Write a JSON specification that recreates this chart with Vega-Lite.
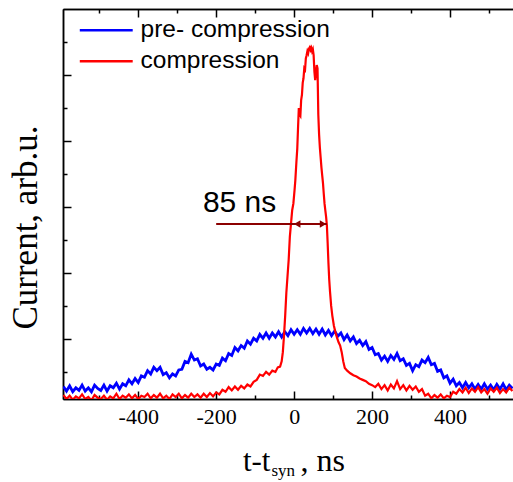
{
"$schema": "https://vega.github.io/schema/vega-lite/v6.json",
"width": 450,
"height": 390,
"autosize": "none",
"padding": {"left": 63, "top": 9, "right": 0, "bottom": 83},
"background": "white",
"config": {
  "view": {"stroke": null},
  "axis": {"domainColor": "black", "domainWidth": 1.5, "tickColor": "black", "tickWidth": 1.5, "grid": false, "labelColor": "black", "titleColor": "black", "titleFontWeight": "normal"}
},
"datasets": {
"pre": [
{"t":-592,"v":0.28},{"t":-584,"v":0.21},{"t":-576,"v":0.29},{"t":-568,"v":0.20},{"t":-560,"v":0.26},{"t":-552,"v":0.22},{"t":-544,"v":0.30},{"t":-536,"v":0.21},{"t":-528,"v":0.26},{"t":-520,"v":0.20},{"t":-512,"v":0.30},{"t":-504,"v":0.25},{"t":-496,"v":0.22},{"t":-488,"v":0.30},{"t":-480,"v":0.21},{"t":-472,"v":0.29},{"t":-464,"v":0.26},{"t":-456,"v":0.33},{"t":-448,"v":0.24},{"t":-440,"v":0.32},{"t":-432,"v":0.29},{"t":-424,"v":0.38},{"t":-416,"v":0.32},{"t":-408,"v":0.40},{"t":-400,"v":0.34},{"t":-392,"v":0.44},{"t":-384,"v":0.42},{"t":-376,"v":0.52},{"t":-368,"v":0.47},{"t":-360,"v":0.57},{"t":-352,"v":0.52},{"t":-344,"v":0.57},{"t":-336,"v":0.46},{"t":-328,"v":0.49},{"t":-320,"v":0.41},{"t":-312,"v":0.47},{"t":-304,"v":0.44},{"t":-296,"v":0.53},{"t":-288,"v":0.54},{"t":-280,"v":0.66},{"t":-272,"v":0.64},{"t":-264,"v":0.77},{"t":-256,"v":0.68},{"t":-248,"v":0.70},{"t":-240,"v":0.59},{"t":-232,"v":0.62},{"t":-224,"v":0.54},{"t":-216,"v":0.57},{"t":-208,"v":0.53},{"t":-200,"v":0.62},{"t":-192,"v":0.60},{"t":-184,"v":0.71},{"t":-176,"v":0.67},{"t":-168,"v":0.78},{"t":-160,"v":0.75},{"t":-152,"v":0.87},{"t":-144,"v":0.82},{"t":-136,"v":0.90},{"t":-128,"v":0.86},{"t":-120,"v":0.97},{"t":-112,"v":0.92},{"t":-104,"v":1.01},{"t":-96,"v":0.97},{"t":-88,"v":1.07},{"t":-80,"v":1.01},{"t":-72,"v":1.09},{"t":-64,"v":1.01},{"t":-56,"v":1.09},{"t":-48,"v":1.03},{"t":-40,"v":1.11},{"t":-32,"v":1.03},{"t":-24,"v":1.11},{"t":-16,"v":1.05},{"t":-8,"v":1.14},{"t":0,"v":1.07},{"t":8,"v":1.14},{"t":16,"v":1.07},{"t":24,"v":1.16},{"t":32,"v":1.09},{"t":40,"v":1.16},{"t":48,"v":1.08},{"t":56,"v":1.15},{"t":64,"v":1.07},{"t":72,"v":1.15},{"t":80,"v":1.06},{"t":88,"v":1.13},{"t":96,"v":1.05},{"t":104,"v":1.12},{"t":112,"v":1.04},{"t":120,"v":1.09},{"t":128,"v":0.99},{"t":136,"v":1.06},{"t":144,"v":0.97},{"t":152,"v":1.03},{"t":160,"v":0.93},{"t":168,"v":0.98},{"t":176,"v":0.90},{"t":184,"v":0.96},{"t":192,"v":0.84},{"t":200,"v":0.87},{"t":208,"v":0.76},{"t":216,"v":0.78},{"t":224,"v":0.68},{"t":232,"v":0.74},{"t":240,"v":0.66},{"t":248,"v":0.75},{"t":256,"v":0.69},{"t":264,"v":0.78},{"t":272,"v":0.67},{"t":280,"v":0.70},{"t":288,"v":0.60},{"t":296,"v":0.63},{"t":304,"v":0.52},{"t":312,"v":0.61},{"t":320,"v":0.58},{"t":328,"v":0.68},{"t":336,"v":0.64},{"t":344,"v":0.72},{"t":352,"v":0.61},{"t":360,"v":0.63},{"t":368,"v":0.51},{"t":376,"v":0.53},{"t":384,"v":0.41},{"t":392,"v":0.44},{"t":400,"v":0.33},{"t":408,"v":0.39},{"t":416,"v":0.29},{"t":424,"v":0.34},{"t":432,"v":0.26},{"t":440,"v":0.34},{"t":448,"v":0.26},{"t":456,"v":0.32},{"t":464,"v":0.24},{"t":472,"v":0.31},{"t":480,"v":0.24},{"t":488,"v":0.32},{"t":496,"v":0.24},{"t":504,"v":0.30},{"t":512,"v":0.23},{"t":520,"v":0.31},{"t":528,"v":0.24},{"t":536,"v":0.32},{"t":544,"v":0.23},{"t":552,"v":0.30},{"t":560,"v":0.25}
],
"comp": [
{"t":-592,"v":0.15},{"t":-584,"v":0.09},{"t":-576,"v":0.14},{"t":-568,"v":0.08},{"t":-560,"v":0.13},{"t":-552,"v":0.10},{"t":-544,"v":0.16},{"t":-536,"v":0.09},{"t":-528,"v":0.12},{"t":-520,"v":0.07},{"t":-512,"v":0.15},{"t":-504,"v":0.11},{"t":-496,"v":0.09},{"t":-488,"v":0.14},{"t":-480,"v":0.08},{"t":-472,"v":0.13},{"t":-464,"v":0.10},{"t":-456,"v":0.17},{"t":-448,"v":0.09},{"t":-440,"v":0.14},{"t":-432,"v":0.11},{"t":-424,"v":0.16},{"t":-416,"v":0.10},{"t":-408,"v":0.15},{"t":-400,"v":0.09},{"t":-392,"v":0.14},{"t":-384,"v":0.12},{"t":-376,"v":0.17},{"t":-368,"v":0.10},{"t":-360,"v":0.15},{"t":-352,"v":0.11},{"t":-344,"v":0.17},{"t":-336,"v":0.10},{"t":-328,"v":0.14},{"t":-320,"v":0.09},{"t":-312,"v":0.16},{"t":-304,"v":0.12},{"t":-296,"v":0.17},{"t":-288,"v":0.10},{"t":-280,"v":0.15},{"t":-272,"v":0.11},{"t":-264,"v":0.17},{"t":-256,"v":0.12},{"t":-248,"v":0.16},{"t":-240,"v":0.11},{"t":-232,"v":0.17},{"t":-224,"v":0.12},{"t":-216,"v":0.18},{"t":-208,"v":0.13},{"t":-200,"v":0.19},{"t":-192,"v":0.16},{"t":-184,"v":0.23},{"t":-176,"v":0.20},{"t":-168,"v":0.27},{"t":-160,"v":0.22},{"t":-152,"v":0.28},{"t":-144,"v":0.23},{"t":-136,"v":0.29},{"t":-128,"v":0.25},{"t":-120,"v":0.31},{"t":-112,"v":0.28},{"t":-104,"v":0.35},{"t":-96,"v":0.38},{"t":-88,"v":0.46},{"t":-80,"v":0.44},{"t":-72,"v":0.50},{"t":-64,"v":0.46},{"t":-56,"v":0.52},{"t":-48,"v":0.50},{"t":-42,"v":0.57},{"t":-36,"v":0.58},{"t":-32,"v":0.66},{"t":-29,"v":0.80},{"t":-26,"v":1.05},{"t":-23,"v":1.35},{"t":-20,"v":1.70},{"t":-17,"v":1.95},{"t":-14,"v":2.20},{"t":-11,"v":2.55},{"t":-8,"v":2.75},{"t":-5,"v":2.95},{"t":-2,"v":3.05},{"t":1,"v":3.25},{"t":3,"v":3.40},{"t":6,"v":3.70},{"t":8,"v":3.88},{"t":10,"v":4.20},{"t":12,"v":4.50},{"t":14,"v":4.40},{"t":16,"v":4.38},{"t":18,"v":4.62},{"t":20,"v":4.70},{"t":22,"v":4.88},{"t":24,"v":4.95},{"t":26,"v":5.10},{"t":28,"v":5.08},{"t":30,"v":5.25},{"t":32,"v":5.30},{"t":34,"v":5.36},{"t":36,"v":5.33},{"t":38,"v":5.40},{"t":40,"v":5.42},{"t":42,"v":5.38},{"t":44,"v":5.41},{"t":46,"v":5.36},{"t":48,"v":5.39},{"t":50,"v":5.30},{"t":52,"v":5.05},{"t":54,"v":4.92},{"t":56,"v":5.05},{"t":58,"v":5.15},{"t":60,"v":5.10},{"t":62,"v":4.40},{"t":64,"v":4.10},{"t":66,"v":3.90},{"t":68,"v":3.75},{"t":70,"v":3.60},{"t":72,"v":3.48},{"t":74,"v":3.36},{"t":76,"v":3.20},{"t":78,"v":3.05},{"t":80,"v":2.95},{"t":82,"v":2.85},{"t":84,"v":2.72},{"t":86,"v":2.45},{"t":88,"v":2.15},{"t":90,"v":1.90},{"t":92,"v":1.72},{"t":95,"v":1.50},{"t":98,"v":1.35},{"t":102,"v":1.20},{"t":106,"v":1.10},{"t":110,"v":1.02},{"t":114,"v":0.95},{"t":118,"v":0.90},{"t":122,"v":0.80},{"t":126,"v":0.66},{"t":130,"v":0.56},{"t":136,"v":0.52},{"t":144,"v":0.48},{"t":152,"v":0.45},{"t":160,"v":0.43},{"t":168,"v":0.40},{"t":176,"v":0.38},{"t":184,"v":0.36},{"t":192,"v":0.32},{"t":200,"v":0.30},{"t":208,"v":0.27},{"t":216,"v":0.32},{"t":224,"v":0.24},{"t":232,"v":0.30},{"t":240,"v":0.22},{"t":248,"v":0.31},{"t":256,"v":0.25},{"t":264,"v":0.36},{"t":272,"v":0.24},{"t":280,"v":0.30},{"t":288,"v":0.22},{"t":296,"v":0.29},{"t":304,"v":0.23},{"t":312,"v":0.28},{"t":320,"v":0.20},{"t":328,"v":0.24},{"t":336,"v":0.14},{"t":344,"v":0.17},{"t":352,"v":0.10},{"t":360,"v":0.15},{"t":368,"v":0.11},{"t":376,"v":0.16},{"t":384,"v":0.10},{"t":392,"v":0.14},{"t":400,"v":0.12},{"t":408,"v":0.20},{"t":416,"v":0.17},{"t":424,"v":0.24},{"t":432,"v":0.19},{"t":440,"v":0.26},{"t":448,"v":0.18},{"t":456,"v":0.25},{"t":464,"v":0.20},{"t":472,"v":0.27},{"t":480,"v":0.19},{"t":488,"v":0.24},{"t":496,"v":0.17},{"t":504,"v":0.25},{"t":512,"v":0.20},{"t":520,"v":0.26},{"t":528,"v":0.18},{"t":536,"v":0.24},{"t":544,"v":0.19},{"t":552,"v":0.26},{"t":560,"v":0.21}
]
},
"layer": [
{
  "data": {"name": "pre"},
  "mark": {"type": "line", "strokeWidth": 2.8, "clip": true},
  "encoding": {
    "x": {"field": "t", "type": "quantitative", "scale": {"domain": [-593, 561.5], "nice": false, "zero": false},
      "axis": {"orient": "bottom", "values": [-400, -200, 0, 200, 400], "tickSize": -8, "labelPadding": 15, "labelExpr": "datum.value < 0 ? '-' + abs(datum.value) : '' + datum.value", "labelFont": "Liberation Serif", "labelFontSize": 22, "title": "t-t", "titleFont": "Liberation Serif", "titleFontSize": 31, "titleX": 207, "titleY": 71, "titleAlign": "right", "titleAnchor": null, "titleBaseline": "alphabetic"}},
    "y": {"field": "v", "type": "quantitative", "scale": {"domain": [0.09, 6.0], "nice": false, "zero": false},
      "axis": {"orient": "left", "values": [1, 2, 3, 4, 5], "tickSize": -8, "labels": false, "title": "Current, arb.u.", "titleFont": "Liberation Serif", "titleFontSize": 35, "titleX": -27, "titleY": 218, "titleAngle": 270, "titleAlign": "center", "titleBaseline": "alphabetic"}},
    "color": {"datum": "pre- compression", "type": "nominal",
      "scale": {"domain": ["pre- compression", "compression"], "range": ["#0000ff", "#ff0000"]},
      "legend": {"title": null, "orient": "none", "legendX": 31, "legendY": 9, "padding": 0, "symbolType": "M-5,0H5", "symbolSize": 112, "symbolStrokeWidth": 2.5, "labelOffset": 22, "rowPadding": 6, "labelFont": "Liberation Sans", "labelFontSize": 24.5, "labelColor": "black", "labelLimit": 400}}
  }
},
{
  "data": {"name": "comp"},
  "mark": {"type": "line", "strokeWidth": 2.2, "clip": true},
  "encoding": {
    "x": {"field": "t", "type": "quantitative", "scale": {"domain": [-593, 561.5], "nice": false, "zero": false},
      "axis": {"orient": "bottom", "values": [-500, -300, -100, 100, 300, 500], "tickSize": -4, "labels": false, "title": ", ns", "titleFont": "Liberation Serif", "titleFontSize": 32, "titleX": 237, "titleY": 71, "titleAlign": "left", "titleAnchor": null, "titleBaseline": "alphabetic"}},
    "y": {"field": "v", "type": "quantitative", "scale": {"domain": [0.09, 6.0], "nice": false, "zero": false},
      "axis": {"orient": "left", "values": [0.5, 1.5, 2.5, 3.5, 4.5, 5.5], "tickSize": -4, "labels": false, "title": null}},
    "color": {"datum": "compression", "type": "nominal"}
  }
},
{
  "data": {"values": [{"t1": -200, "t2": 84, "v": 2.742}]},
  "mark": {"type": "rule", "color": "#8b0000", "strokeWidth": 2},
  "encoding": {
    "x": {"field": "t1", "type": "quantitative", "scale": {"domain": [-593, 561.5], "nice": false, "zero": false},
      "axis": {"orient": "top", "values": [-400, -200, 0, 200, 400], "tickSize": -8, "labels": false, "title": "syn", "titleFont": "Liberation Serif", "titleFontSize": 17, "titleX": 208, "titleY": 466, "titleAlign": "left", "titleAnchor": null, "titleBaseline": "alphabetic"}},
    "x2": {"field": "t2"},
    "y": {"field": "v", "type": "quantitative", "scale": {"domain": [0.09, 6.0], "nice": false, "zero": false}, "axis": null}
  }
},
{
  "data": {"values": [{"t": 7.9, "v": 2.742}]},
  "mark": {"type": "point", "shape": "triangle-left", "filled": true, "size": 56, "color": "#8b0000", "opacity": 1},
  "encoding": {
    "x": {"field": "t", "type": "quantitative", "scale": {"domain": [-593, 561.5], "nice": false, "zero": false},
      "axis": {"orient": "top", "values": [-500, -300, -100, 100, 300, 500], "tickSize": -4, "labels": false, "title": null}},
    "y": {"field": "v", "type": "quantitative", "scale": {"domain": [0.09, 6.0], "nice": false, "zero": false}, "axis": null}
  }
},
{
  "data": {"values": [{"t": 74.2, "v": 2.742}]},
  "mark": {"type": "point", "shape": "triangle-right", "filled": true, "size": 56, "color": "#8b0000", "opacity": 1},
  "encoding": {
    "x": {"field": "t", "type": "quantitative", "scale": {"domain": [-593, 561.5], "nice": false, "zero": false}, "axis": null},
    "y": {"field": "v", "type": "quantitative", "scale": {"domain": [0.09, 6.0], "nice": false, "zero": false}, "axis": null}
  }
},
{
  "data": {"values": [{"t": -140, "v": 2.93, "label": "85 ns"}]},
  "mark": {"type": "text", "font": "Liberation Sans", "fontSize": 30, "align": "center", "baseline": "alphabetic", "color": "black"},
  "encoding": {
    "x": {"field": "t", "type": "quantitative", "scale": {"domain": [-593, 561.5], "nice": false, "zero": false}, "axis": null},
    "y": {"field": "v", "type": "quantitative", "scale": {"domain": [0.09, 6.0], "nice": false, "zero": false}, "axis": null},
    "text": {"field": "label"}
  }
}
],
"resolve": {"axis": {"x": "independent", "y": "independent"}}
}
